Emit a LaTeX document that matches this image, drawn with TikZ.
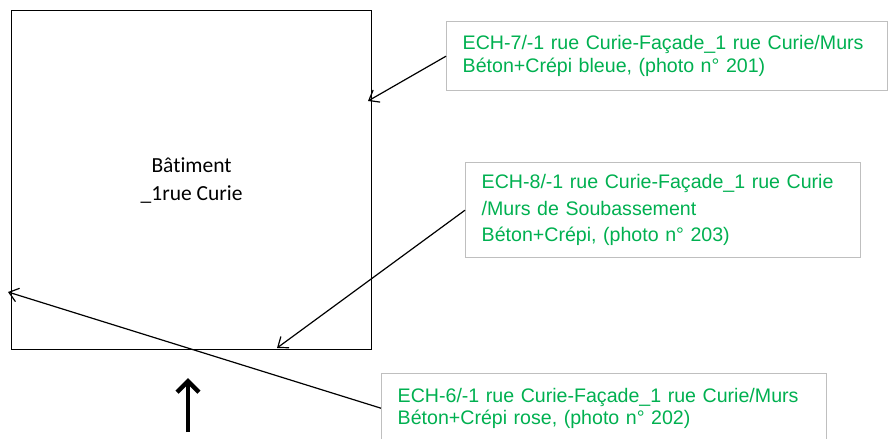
\documentclass[tikz,border=0pt]{standalone}
\usepackage{fontspec}
\setmainfont{Liberation Sans}
\newfontfamily\calibri[Ligatures=NoCommon]{Carlito}
\usetikzlibrary{arrows.meta,positioning}
\definecolor{vert}{HTML}{00B050}
\definecolor{cadre}{HTML}{BFBFBF}

\begin{document}
\begin{tikzpicture}[x=1pt,y=-1pt,->,>={Straight Barb[length=9pt,width=14pt]},line width=1.2pt]
            \tikzstyle{every node}=[inner sep=0pt]
            \tikzstyle{ech}=[draw=cadre,line width=1.4pt,text=vert,align=left,anchor=north west,
                inner xsep=16pt,font=\fontsize{19.6}{23.3}\selectfont]
            \useasboundingbox (0,0) rectangle (889,439);
            \clip (0,0) rectangle (889,439);
            \node[draw,minimum width=360pt,minimum height=339pt,anchor=north west,align=center,
                font=\calibri\fontsize{21.5}{28}\selectfont] (bat) at (11,10) {Bâtiment\\\_1rue Curie};
            \node[ech,text width=409pt,minimum height=69pt] (ech7) at (446,21)
                {ECH-7/-1 rue Curie-Façade\_1 rue Curie/Murs\\Béton+Crépi bleue, (photo n° 201)};
            \node[ech,text width=363pt,minimum height=95pt,font=\fontsize{19.6}{26.3}\selectfont] (ech8) at (465,162)
                {ECH-8/-1 rue Curie-Façade\_1 rue Curie\\/Murs de Soubassement\\Béton+Crépi, (photo n° 203)};
            \node[ech,text width=413pt,minimum height=69pt,font=\fontsize{19.6}{21.7}\selectfont] (ech6) at (381,373)
                {ECH-6/-1 rue Curie-Façade\_1 rue Curie/Murs\\Béton+Crépi rose, (photo n° 202)};
            \coordinate (p7) at (368,101);
            \coordinate (p8) at (277,348);
            \coordinate (p6) at (8,292);
            \coordinate (nord0) at (188,432);
            \coordinate (nord1) at (188,378);
            \path (ech7.west) edge (p7)
                (ech8.west) edge (p8)
                (ech6.west) edge (p6);
            \draw[line width=4.5pt,-{Straight Barb[length=11pt,width=22pt]}] (nord0) -- (nord1);
        \end{tikzpicture}
\end{document}
